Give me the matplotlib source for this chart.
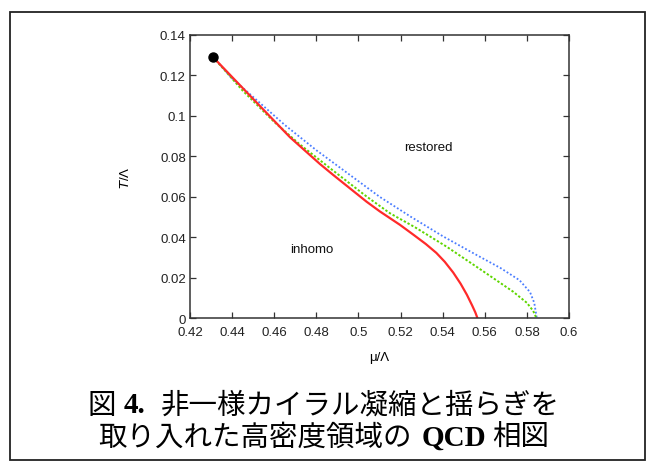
import matplotlib
matplotlib.use("Agg")
import matplotlib.pyplot as plt
from matplotlib.patches import Rectangle
from matplotlib.font_manager import FontProperties
from matplotlib.ticker import FormatStrFormatter

# ---- data ----
crit_point = (0.431, 0.129)

red_mu = [0.431, 0.4517, 0.4675, 0.4817, 0.4881, 0.5039, 0.5102, 0.5197, 0.5261,
          0.5320, 0.5370, 0.5410, 0.5450, 0.5485, 0.5515, 0.5540, 0.5555, 0.5565]
red_T = [0.129, 0.1065, 0.0894, 0.0762, 0.0707, 0.0575, 0.0527, 0.0461, 0.0412,
         0.0366, 0.0322, 0.0278, 0.0225, 0.0170, 0.0115, 0.0062, 0.0028, 0.0]

green_mu = [0.431, 0.445, 0.460, 0.472, 0.488, 0.504, 0.515, 0.527, 0.542, 0.558,
            0.5735, 0.580, 0.5830, 0.5845]
green_T = [0.129, 0.1125, 0.0970, 0.0860, 0.0729, 0.0600, 0.0518, 0.0448, 0.0352,
           0.0240, 0.0130, 0.0075, 0.0035, 0.0]

blue_mu = [0.431, 0.440, 0.452, 0.465, 0.480, 0.495, 0.510, 0.525, 0.540, 0.555,
           0.5675, 0.5765, 0.5815, 0.5835, 0.5847]
blue_T = [0.129, 0.1185, 0.1075, 0.0955, 0.0830, 0.0715, 0.0600, 0.0500, 0.0405,
          0.0318, 0.0247, 0.0187, 0.0128, 0.0075, 0.0]

x_ticks = [0.42, 0.44, 0.46, 0.48, 0.5, 0.52, 0.54, 0.56, 0.58, 0.6]
y_ticks = [0, 0.02, 0.04, 0.06, 0.08, 0.1, 0.12, 0.14]

region_labels = [("restored", 0.533, 0.0846), ("inhomo", 0.478, 0.034)]

caption_line1 = [("図", "cjk"), ("4.", "serif"), ("非一様カイラル凝縮と揺らぎを", "cjk")]
caption_line2 = [("取り入れた高密度領域の", "cjk"), ("QCD", "serif"), ("相図", "cjk")]

# ---- figure ----
W, H = 656, 464
fig = plt.figure(figsize=(W / 100, H / 100), dpi=100)

# outer frame
fig.patches.append(Rectangle((10 / W, 3 / H), 635 / W, 448 / H, transform=fig.transFigure,
                             fill=False, edgecolor="#222222", linewidth=1.3))

ax = fig.add_axes([190 / W, 1 - 319 / H, 379 / W, 283 / H])
sans = "Liberation Sans"

ax.plot(blue_mu, blue_T, color="#4a7dff", lw=1.3, linestyle=(0, (1, 1.2)))
ax.plot(green_mu, green_T, color="#5fd600", lw=1.4, linestyle=(0, (1.2, 1.0)))
ax.plot(red_mu, red_T, color="#ff2a2a", lw=1.6)
ax.plot([crit_point[0]], [crit_point[1]], "o", color="black", markersize=6.5, zorder=5,
        clip_on=False)

ax.set_xlim(0.42, 0.6)
ax.set_ylim(0, 0.14)
ax.set_xticks(x_ticks)
ax.set_yticks(y_ticks)
ax.xaxis.set_major_formatter(FormatStrFormatter("%g"))
ax.yaxis.set_major_formatter(FormatStrFormatter("%g"))
ax.tick_params(direction="in", top=True, right=True, length=4, width=0.9,
               color="#333333", labelsize=9.5)
ax.tick_params(axis="x", pad=6)
ax.tick_params(axis="y", pad=3)
for lab in ax.get_xticklabels() + ax.get_yticklabels():
    lab.set_fontfamily(sans)
    lab.set_color("#222222")
for s in ax.spines.values():
    s.set_linewidth(1.1)
    s.set_color("#333333")

ax.set_xlabel("μ/Λ", fontfamily=sans, fontsize=9.5, labelpad=9)
ax.set_ylabel("$\\mathit{T}$/Λ", fontfamily=sans, fontsize=9.5, labelpad=20)

for txt, x, y in region_labels:
    ax.text(x, y, txt, fontfamily=sans, fontsize=9.5, ha="center", va="center", color="#111111")

# ---- caption with mixed fonts ----
fp_cjk = FontProperties(family=["Noto Sans CJK JP", "DejaVu Sans"], size=20.5)
fp_ser = FontProperties(family="Liberation Serif", weight="bold", size=21)
fonts = {"cjk": fp_cjk, "serif": fp_ser}

canvas = fig.canvas
renderer = canvas.get_renderer()


def text_width(s, fp):
    w, h, d = renderer.get_text_width_height_descent(s, fp, ismath=False)
    return w


def draw_line(segments, gaps, y_px, center_px):
    widths = [text_width(s, fonts[f]) for s, f in segments]
    total = sum(widths) + sum(gaps)
    x = center_px - total / 2
    for i, ((s, f), w) in enumerate(zip(segments, widths)):
        fig.text(x / W, 1 - y_px / H, s, fontproperties=fonts[f], ha="left",
                 va="center", color="black")
        x += w
        if i < len(gaps):
            x += gaps[i]


draw_line(caption_line1, [7, 16], 406, 324)
draw_line(caption_line2, [10, 6], 438, 324)

fig.savefig("out.png", dpi=100)
